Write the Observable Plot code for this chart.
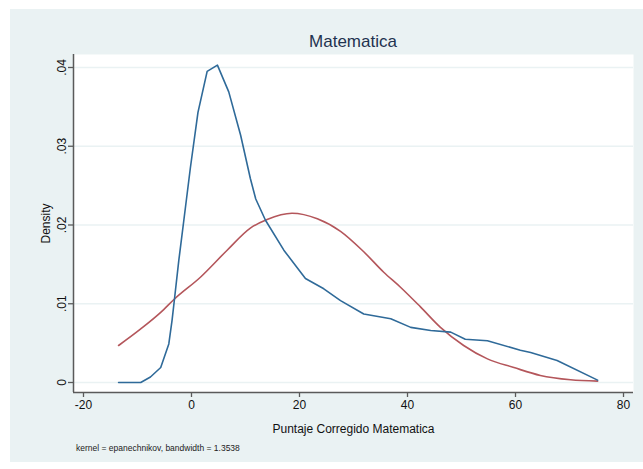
<!DOCTYPE html>
<html>
<head>
<meta charset="utf-8">
<script src="https://cdn.jsdelivr.net/npm/d3@7"></script>
<script src="https://cdn.jsdelivr.net/npm/@observablehq/plot@0.6"></script>
<style>
  html, body { margin: 0; padding: 0; background: #ffffff; }
  body { width: 643px; height: 469px; position: relative; overflow: hidden; font-family: "Liberation Sans", Arial, sans-serif; }
  #card { position: absolute; left: 10px; top: 9px; width: 633px; height: 453px; background: #eaf2f3; }
  #title { height: 45px; box-sizing: border-box; padding: 23px 10px 0 63px; line-height: 20px; font-size: 17px; text-align: center; color: #1f3350; }
  #chart svg { display: block; }
  #note { padding: 5px 0 0 66px; line-height: 10px; font-size: 8.5px; color: #222; }
</style>
</head>
<body>
<div id="card">
  <div id="title">Matematica</div>
  <div id="chart"></div>
  <div id="note">kernel = epanechnikov, bandwidth = 1.3538</div>
</div>
<script>
// Tick positions and labels
const xTicks = [-20, 0, 20, 40, 60, 80];
const yTicks = [0, 0.01, 0.02, 0.03, 0.04];
const yTickLabels = ["0", ".01", ".02", ".03", ".04"];

// Kernel density (blue)
const kdeX = [-13.5, -11.5, -9.4, -7.6, -5.7, -4.2, -3.6, -3.15, -2.35, -1.4, -0.2, 1.2, 2.9, 4.8, 6.9, 9.1, 10.9, 11.9, 13.7, 17.1, 21.1, 24.5, 27.6, 31.9, 36.9, 40.6, 44.3, 48, 50.7, 54.8, 60.9, 62.8, 67.7, 75.2];
const kdeY = [0, 0, 0, 0.0007, 0.0019, 0.0049, 0.0079, 0.0106, 0.0155, 0.0207, 0.0273, 0.0343, 0.0395, 0.0403, 0.0369, 0.0314, 0.0259, 0.0233, 0.0206, 0.0168, 0.0132, 0.0119, 0.0104, 0.0087, 0.0081, 0.0070, 0.0066, 0.0064, 0.0055, 0.0053, 0.0041, 0.0038, 0.0028, 0.0003];

// Normal density (red)
const normX = [-13.5, -9.4, -5.7, -3.15, 1.7, 6.6, 10.9, 14.0, 18.6, 23.3, 27.6, 31.9, 35.6, 38.7, 42.4, 46.1, 50.4, 54.8, 59.7, 64.6, 70.2, 75.2];
const normY = [0.0047, 0.0068, 0.0089, 0.0106, 0.0134, 0.0168, 0.0196, 0.0207, 0.0215, 0.0208, 0.0192, 0.0166, 0.0140, 0.0121, 0.0096, 0.0070, 0.0047, 0.0030, 0.0019, 0.0009, 0.00035, 0.00017];

const xDomain = [-21.85, 81.85];
const yDomain = [-0.00127, 0.04165];

const kde = kdeX.map((x, i) => ({x, y: kdeY[i]}));
const norm = normX.map((x, i) => ({x, y: normY[i]}));

const axisColor = "#5a5a5a";

const chart = Plot.plot({
  width: 633,
  height: 384,
  marginLeft: 63,
  marginRight: 10,
  marginTop: 0,
  marginBottom: 46,
  style: { background: "transparent", fontFamily: "Liberation Sans, Arial, sans-serif", color: "#111" },
  x: { domain: xDomain },
  y: { domain: yDomain },
  marks: [
    Plot.frame({ fill: "#ffffff", stroke: "none" }),
    Plot.gridY(yTicks, { stroke: "#eaf2f3", strokeOpacity: 1, strokeWidth: 1.6 }),
    Plot.line(norm, { x: "x", y: "y", stroke: "#b4565b", strokeWidth: 1.6, curve: "monotone-x" }),
    Plot.line(kde, { x: "x", y: "y", stroke: "#2f6a99", strokeWidth: 1.6, curve: "linear" }),
    Plot.ruleX([xDomain[0]], { stroke: axisColor, strokeWidth: 1.5 }),
    Plot.ruleY([yDomain[0]], { stroke: axisColor, strokeWidth: 1.5 }),
    Plot.axisX(xTicks, {
      tickSize: 5, tickPadding: 3, fontSize: 12, stroke: axisColor, strokeWidth: 1.3,
      tickFormat: (d) => String(d),
      label: "Puntaje Corregido Matematica", labelAnchor: "center", labelArrow: "none", labelOffset: 40
    }),
    Plot.axisY(yTicks, {
      tickSize: 5, tickPadding: 3, fontSize: 12, stroke: axisColor, strokeWidth: 1.3,
      tickFormat: (d) => yTickLabels[yTicks.indexOf(d)],
      tickRotate: -90, textAnchor: "middle", lineAnchor: "bottom",
      label: "Density", labelAnchor: "center", labelArrow: "none", labelOffset: 32
    })
  ]
});
document.getElementById("chart").appendChild(chart);
</script>
</body>
</html>
